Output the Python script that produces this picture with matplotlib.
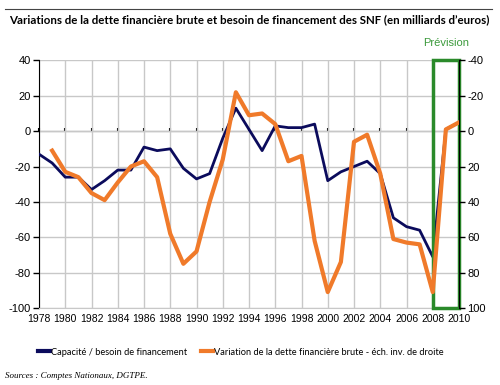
import matplotlib
matplotlib.use("Agg")
import matplotlib.pyplot as plt
import numpy as np
from matplotlib.lines import Line2D
from matplotlib.patches import Rectangle

plt.rcParams["axes.unicode_minus"] = False

years = list(range(1978, 2011))
capacite = [-13, -18, -26, -26, -33, -28, -22, -22, -9, -11, -10, -21, -27, -24, -4, 13,
            1, -11, 3, 2, 2, 4, -28, -23, -20, -17, -24, -49, -54, -56, -71, 1, 5]
dette = [np.nan, 11, 23, 26, 35, 39, 29, 20, 17, 26, 58, 75, 68, 40, 16, -22,
         -9, -10, -4, 17, 14, 62, 91, 74, 6, 2, 24, 61, 63, 64, 91, -1, -5]
left_ticks = [40, 20, 0, -20, -40, -60, -80, -100]
right_ticks = [-40, -20, 0, 20, 40, 60, 80, 100]
x_ticks = list(range(1978, 2011, 2))

title = "Variations de la dette financière brute et besoin de financement des SNF (en milliards d’euros)"
label_cap = "Capacité / besoin de financement"
label_dette = "Variation de la dette financière brute - éch. inv. de droite"
source = "Sources : Comptes Nationaux, DGTPE."

sans = "Liberation Sans"
narrow = "Lato"
NAVY = "#0b0b5c"
ORANGE = "#f07a2a"
GREEN = "#2a8a2a"
GRID = "#c8c8c8"

fig = plt.figure(figsize=(5, 3.85), dpi=100)
ax = fig.add_axes([0.078, 0.2, 0.84, 0.643])

ax.plot(years, capacite, color=NAVY, lw=2.0, zorder=3)
ax.set_xlim(1978, 2010)
ax.set_ylim(-100, 40)
ax.set_yticks(left_ticks)
ax.set_xticks(x_ticks)
ax.grid(True, color=GRID, lw=1.0)
ax.set_axisbelow(True)
ax.tick_params(axis="x", length=0, pad=4, labelsize=7.5)
ax.tick_params(axis="y", direction="out", length=4, width=1, labelsize=8, pad=2)
for lab in ax.get_xticklabels() + ax.get_yticklabels():
    lab.set_fontfamily(sans)
ax.spines["top"].set_visible(False)
ax.spines["bottom"].set_color(GRID)
ax.spines["left"].set_color("black")
ax.spines["right"].set_visible(False)

ax2 = ax.twinx()
ax2.plot(years, dette, color=ORANGE, lw=3.0, zorder=4)
ax2.set_ylim(100, -40)
ax2.set_yticks(right_ticks)
ax2.tick_params(axis="y", direction="out", length=4, width=1, labelsize=8, pad=2)
for lab in ax2.get_yticklabels():
    lab.set_fontfamily(sans)
for s in ["top", "bottom", "left"]:
    ax2.spines[s].set_visible(False)
ax2.spines["right"].set_color("black")

# zero line with tick marks
frac0 = (0 - (-100)) / 140.0
sec = ax.secondary_xaxis(frac0)
sec.set_xticks(x_ticks)
sec.set_xticklabels([])
sec.tick_params(direction="out", length=2.5, width=1.5, color="black")
sec.spines["bottom"].set_color("black")
sec.spines["bottom"].set_linewidth(1.0)

# forecast frame
rect = Rectangle((2008, -100), 2, 140, fill=False, edgecolor=GREEN, lw=2.5,
                 clip_on=False, zorder=5)
ax.add_patch(rect)
ax.text(2009, 1.07, "Prévision", transform=ax.get_xaxis_transform(), ha="center",
        va="center", color="#3c9a3c", fontsize=8, family=sans)

fig.add_artist(Line2D([0.01, 0.984], [1 - 9 / 385, 1 - 9 / 385], color="#444444", lw=0.8))
t = fig.text(0.498, 1 - 20 / 385, title, ha="center", va="center", fontsize=9.5,
             fontweight="bold", family=narrow)

handles = [Line2D([], [], color=NAVY, lw=3), Line2D([], [], color=ORANGE, lw=3)]
leg = fig.legend(handles, [label_cap, label_dette], loc="center", ncol=2,
                 bbox_to_anchor=(0.482, 1 - 352 / 385), frameon=False, handlelength=1.1,
                 handletextpad=0.1, columnspacing=1.2,
                 prop={"family": narrow, "size": 8})

fig.text(0.01, 1 - 376 / 385, source, ha="left", va="center", fontsize=6.5,
         family="Liberation Serif", style="italic")

# fit widths to the reference
renderer = fig.canvas.get_renderer()
w = t.get_window_extent(renderer).width
t.set_fontsize(9.5 * 482.0 / w)
wl = leg.get_window_extent(renderer).width
for txt in leg.get_texts():
    txt.set_fontsize(8 * 412.0 / wl)

fig.savefig("out.png", dpi=100)
